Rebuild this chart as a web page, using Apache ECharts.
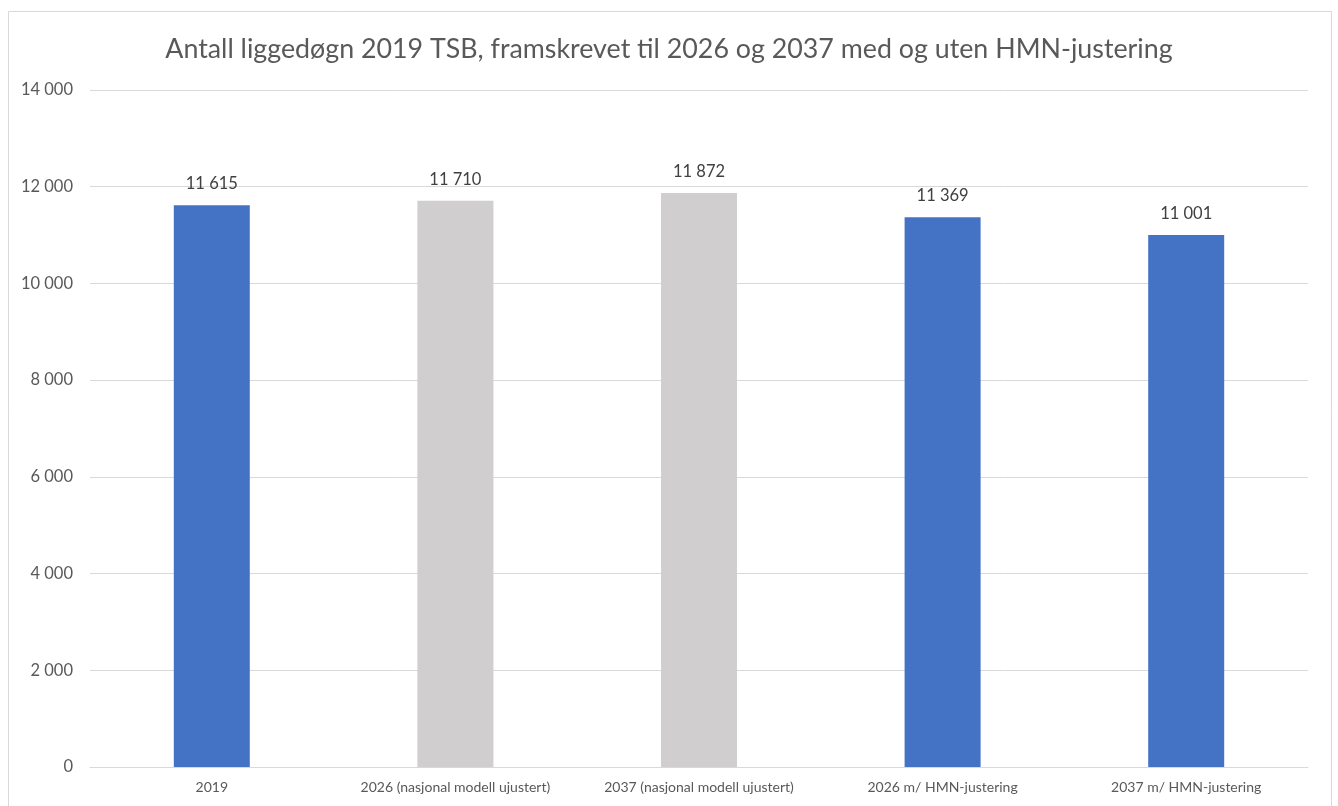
<!DOCTYPE html>
<html><head><meta charset="utf-8">
<script src="https://cdn.jsdelivr.net/npm/echarts@6/dist/echarts.min.js"></script>
<style>html,body{margin:0;padding:0;background:#fff}#c{width:1338px;height:806px}</style>
</head><body><div id="c"></div>
<script>
const categories = ['2019','2026 (nasjonal modell ujustert)','2037 (nasjonal modell ujustert)','2026 m/ HMN-justering','2037 m/ HMN-justering'];
const values = [11615, 11710, 11872, 11369, 11001];
const barColors = ['#4472C4','#D0CECE','#D0CECE','#4472C4','#4472C4'];
const titleText = 'Antall liggedøgn 2019 TSB, framskrevet til 2026 og 2037 med og uten HMN-justering';
const fmt = v => String(v).replace(/\B(?=(\d{3})+(?!\d))/g, ' ');
const FF = 'Lato';
const chart = echarts.init(document.getElementById('c'));
chart.setOption({
  animation:false,
  textStyle:{fontFamily:FF},
  title:{text:titleText,left:'center',top:31,textStyle:{fontSize:26.8,fontWeight:'normal',color:'#595959',fontFamily:FF}},
  graphic:[{type:'rect',shape:{x:8.5,y:11.5,width:1323,height:800},style:{fill:'none',stroke:'#D9D9D9',lineWidth:1},silent:true}],
  grid:{left:90,right:30,top:90,bottom:39},
  xAxis:{type:'category',data:categories,axisTick:{show:false},axisLine:{lineStyle:{color:'#D9D9D9'}},axisLabel:{interval:0,color:'#595959',fontSize:14,margin:13,fontFamily:FF}},
  yAxis:{type:'value',min:0,max:14000,interval:2000,axisLine:{show:false},axisTick:{show:false},splitLine:{lineStyle:{color:'#D9D9D9'}},axisLabel:{color:'#595959',fontSize:16.5,margin:17,fontFamily:FF,formatter:fmt}},
  series:[{type:'bar',barWidth:76,data:values.map((v,i)=>({value:v,itemStyle:{color:barColors[i]}})),
    label:{show:true,position:'top',distance:13,color:'#404040',fontSize:16.5,fontFamily:FF,formatter:p=>fmt(p.value)}}]
});
</script></body></html>
